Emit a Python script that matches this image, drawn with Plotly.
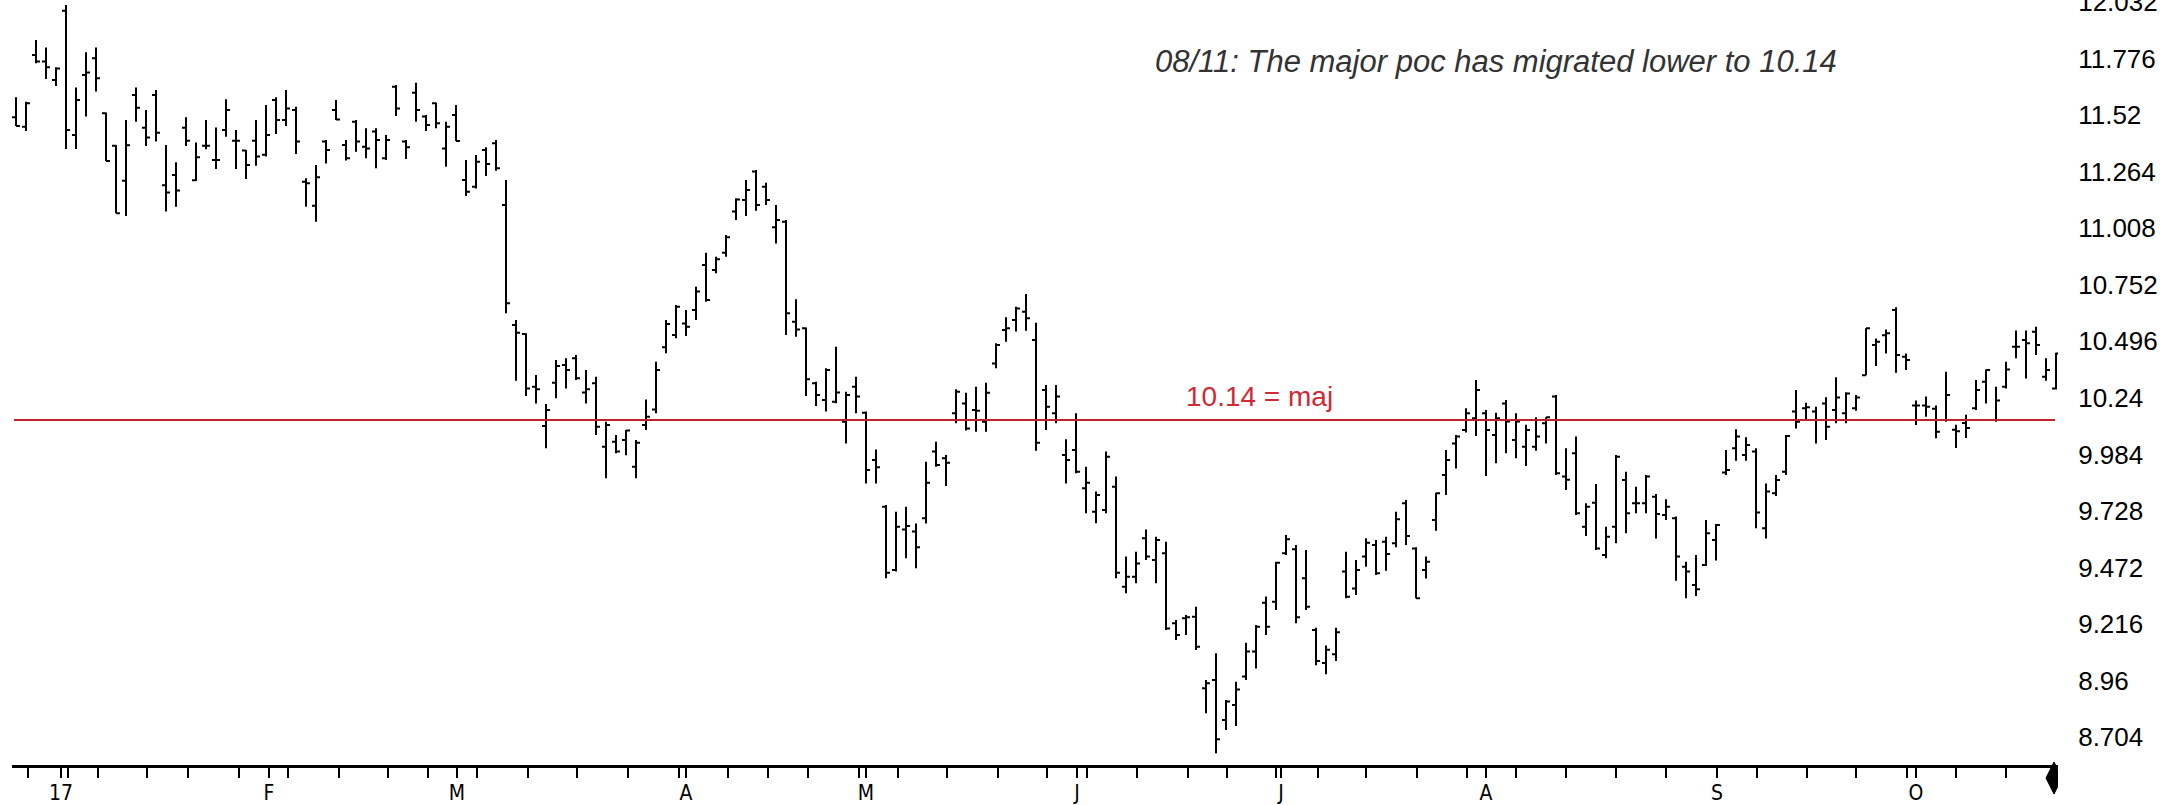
import plotly.graph_objects as go

# ---- data (daily OHLC) ----
opens = [11.510, 11.467, 11.792, 11.762, 11.678, 11.992, 11.430, 11.701, 11.777, 11.528,
         11.381, 11.223, 11.611, 11.463, 11.611, 11.202, 11.249, 11.463, 11.225, 11.381,
         11.316, 11.452, 11.404, 11.359, 11.404, 11.340, 11.588, 11.498, 11.543, 11.218,
         11.110, 11.400, 11.543, 11.384, 11.490, 11.377, 11.445, 11.324, 11.648, 11.400,
         11.621, 11.513, 11.573, 11.369, 11.520, 11.226, 11.196, 11.362, 11.392, 11.113,
         10.570, 10.529, 10.291, 10.113, 10.309, 10.389, 10.419, 10.264, 10.306, 10.019,
         10.042, 10.049, 9.929, 10.117, 10.188, 10.469, 10.525, 10.577, 10.638, 10.841,
         10.819, 10.897, 11.083, 11.135, 11.264, 11.196, 11.012, 11.037, 10.585, 10.555,
         10.306, 10.231, 10.223, 10.132, 10.291, 10.173, 9.959, 9.748, 9.461, 9.645,
         9.635, 9.695, 9.997, 9.967, 10.170, 10.215, 10.185, 10.132, 10.396, 10.547,
         10.592, 10.630, 10.502, 10.276, 10.170, 9.982, 10.004, 9.831, 9.725, 9.733,
         9.838, 9.386, 9.431, 9.605, 9.507, 9.537, 9.220, 9.243, 9.250, 8.926,
         8.964, 8.783, 8.850, 8.979, 9.092, 9.313, 9.318, 9.537, 9.555, 9.424,
         9.190, 9.040, 9.080, 9.454, 9.378, 9.522, 9.574, 9.589, 9.582, 9.763,
         9.559, 9.461, 9.687, 9.891, 10.034, 10.095, 10.148, 10.170, 10.072, 10.215,
         10.050, 10.019, 10.019, 10.125, 10.246, 9.884, 9.989, 9.657, 9.766, 9.529,
         9.657, 9.868, 9.763, 9.763, 9.793, 9.710, 9.695, 9.476, 9.393, 9.484,
         9.597, 9.902, 10.012, 9.982, 9.997, 9.650, 9.808, 9.906, 10.178, 10.193,
         10.178, 10.215, 10.185, 10.170, 10.193, 10.343, 10.479, 10.524, 10.638, 10.426,
         10.206, 10.206, 10.191, 10.140, 10.096, 10.127, 10.193, 10.313, 10.140, 10.291,
         10.472, 10.502, 10.539, 10.336, 10.283]
highs = [11.600, 11.580, 11.859, 11.826, 11.736, 12.018, 11.645, 11.804, 11.826, 11.531,
         11.384, 11.497, 11.645, 11.543, 11.633, 11.384, 11.306, 11.510, 11.396, 11.497,
         11.464, 11.591, 11.452, 11.362, 11.497, 11.565, 11.600, 11.633, 11.558, 11.234,
         11.294, 11.407, 11.588, 11.407, 11.498, 11.460, 11.460, 11.430, 11.656, 11.407,
         11.666, 11.520, 11.576, 11.490, 11.565, 11.317, 11.339, 11.374, 11.407, 11.226,
         10.593, 10.532, 10.344, 10.212, 10.411, 10.419, 10.434, 10.366, 10.336, 10.132,
         10.072, 10.095, 10.049, 10.233, 10.404, 10.592, 10.660, 10.638, 10.743, 10.897,
         10.879, 10.977, 11.143, 11.226, 11.271, 11.214, 11.113, 11.045, 10.686, 10.559,
         10.313, 10.374, 10.472, 10.268, 10.336, 10.178, 10.007, 9.755, 9.725, 9.748,
         9.672, 9.951, 10.042, 9.982, 10.279, 10.263, 10.291, 10.309, 10.487, 10.605,
         10.653, 10.710, 10.580, 10.298, 10.298, 10.053, 10.170, 9.929, 9.816, 9.997,
         9.884, 9.522, 9.544, 9.645, 9.612, 9.589, 9.235, 9.258, 9.295, 8.964,
         9.084, 8.873, 8.956, 9.132, 9.212, 9.341, 9.499, 9.620, 9.574, 9.552,
         9.200, 9.120, 9.200, 9.544, 9.506, 9.605, 9.597, 9.612, 9.725, 9.778,
         9.564, 9.522, 9.811, 10.004, 10.072, 10.193, 10.321, 10.185, 10.173, 10.230,
         10.170, 10.118, 10.152, 10.152, 10.253, 10.012, 10.065, 9.763, 9.850, 9.657,
         9.982, 9.906, 9.838, 9.891, 9.805, 9.781, 9.703, 9.499, 9.529, 9.688,
         9.669, 10.004, 10.098, 10.062, 10.012, 9.853, 9.891, 10.072, 10.276, 10.218,
         10.200, 10.243, 10.333, 10.266, 10.253, 10.555, 10.509, 10.550, 10.650, 10.441,
         10.228, 10.246, 10.206, 10.358, 10.119, 10.164, 10.321, 10.369, 10.291, 10.404,
         10.545, 10.545, 10.562, 10.419, 10.444]
lows = [11.470, 11.448, 11.754, 11.683, 11.651, 11.366, 11.366, 11.513, 11.626, 11.312,
        11.075, 11.063, 11.490, 11.380, 11.400, 11.083, 11.105, 11.380, 11.222, 11.365,
        11.276, 11.422, 11.276, 11.231, 11.291, 11.332, 11.434, 11.470, 11.344, 11.105,
        11.037, 11.301, 11.498, 11.314, 11.354, 11.324, 11.279, 11.317, 11.516, 11.321,
        11.490, 11.448, 11.460, 11.286, 11.402, 11.154, 11.188, 11.244, 11.268, 10.623,
        10.318, 10.249, 10.215, 10.012, 10.238, 10.283, 10.321, 10.215, 10.072, 9.876,
        9.989, 9.981, 9.876, 10.095, 10.170, 10.442, 10.510, 10.520, 10.593, 10.675,
        10.804, 10.879, 11.045, 11.063, 11.087, 11.113, 10.939, 10.525, 10.517, 10.249,
        10.203, 10.178, 10.216, 10.034, 10.170, 9.853, 9.853, 9.424, 9.454, 9.514,
        9.469, 9.672, 9.929, 9.841, 10.125, 10.092, 10.087, 10.087, 10.374, 10.494,
        10.540, 10.544, 10.001, 10.095, 10.125, 9.853, 9.899, 9.718, 9.673, 9.718,
        9.424, 9.356, 9.401, 9.507, 9.401, 9.190, 9.145, 9.167, 9.099, 8.813,
        8.632, 8.737, 8.755, 8.964, 9.016, 9.167, 9.280, 9.529, 9.220, 9.280,
        9.030, 8.990, 9.050, 9.333, 9.348, 9.476, 9.439, 9.458, 9.564, 9.574,
        9.333, 9.423, 9.639, 9.801, 9.921, 10.083, 10.068, 9.887, 9.944, 9.989,
        9.967, 9.932, 10.001, 10.034, 9.891, 9.823, 9.710, 9.615, 9.552, 9.514,
        9.582, 9.627, 9.718, 9.718, 9.604, 9.688, 9.413, 9.333, 9.344, 9.479,
        9.504, 9.891, 9.956, 9.956, 9.650, 9.604, 9.796, 9.891, 10.102, 10.140,
        10.034, 10.049, 10.125, 10.125, 10.182, 10.343, 10.384, 10.441, 10.354, 10.366,
        10.117, 10.155, 10.057, 10.132, 10.013, 10.059, 10.185, 10.215, 10.132, 10.283,
        10.419, 10.328, 10.434, 10.318, 10.278]
closes = [11.470, 11.573, 11.762, 11.736, 11.731, 11.452, 11.588, 11.712, 11.686, 11.312,
          11.075, 11.383, 11.553, 11.418, 11.440, 11.169, 11.178, 11.404, 11.329, 11.381,
          11.316, 11.543, 11.404, 11.294, 11.332, 11.430, 11.498, 11.550, 11.400, 11.211,
          11.238, 11.362, 11.500, 11.324, 11.400, 11.369, 11.407, 11.407, 11.550, 11.374,
          11.543, 11.475, 11.483, 11.467, 11.402, 11.173, 11.309, 11.298, 11.279, 10.668,
          10.535, 10.283, 10.279, 10.185, 10.384, 10.366, 10.329, 10.279, 10.110, 10.117,
          9.997, 10.092, 10.037, 10.155, 10.366, 10.574, 10.653, 10.562, 10.721, 10.683,
          10.867, 10.967, 11.138, 11.181, 11.113, 11.135, 11.045, 10.623, 10.550, 10.324,
          10.253, 10.366, 10.264, 10.253, 10.246, 9.914, 9.926, 9.449, 9.657, 9.660,
          9.564, 9.856, 9.936, 9.947, 10.268, 10.102, 10.182, 10.263, 10.479, 10.555,
          10.645, 10.600, 10.037, 10.200, 10.246, 9.959, 9.906, 9.856, 9.801, 9.974,
          9.449, 9.431, 9.491, 9.522, 9.597, 9.197, 9.167, 9.247, 9.114, 8.949,
          8.695, 8.866, 8.921, 9.092, 9.205, 9.205, 9.494, 9.600, 9.247, 9.295,
          9.050, 9.100, 9.180, 9.340, 9.461, 9.585, 9.446, 9.534, 9.691, 9.615,
          9.333, 9.499, 9.808, 9.959, 10.065, 10.170, 10.276, 10.095, 10.148, 10.133,
          10.133, 10.095, 10.065, 10.152, 9.899, 9.870, 9.718, 9.748, 9.559, 9.612,
          9.974, 9.718, 9.763, 9.884, 9.715, 9.748, 9.522, 9.454, 9.374, 9.627,
          9.665, 9.914, 10.065, 10.027, 9.721, 9.816, 9.868, 10.068, 10.132, 10.198,
          10.140, 10.110, 10.242, 10.260, 10.242, 10.555, 10.494, 10.532, 10.434, 10.411,
          10.206, 10.200, 10.087, 10.253, 10.089, 10.104, 10.276, 10.366, 10.228, 10.369,
          10.472, 10.487, 10.479, 10.366, 10.441]

bar_index = list(range(len(closes)))

month_labels = ["17", "F", "M", "A", "M", "J", "J", "A", "S", "O"]
month_pos = [4.5, 25.3, 44.1, 67.0, 85.0, 106.1, 126.5, 147.0, 170.1, 190.0]
week_pos = [1.2, 5.2, 8.2, 13.1, 17.2, 22.3, 27.2, 32.3, 37.2, 41.2, 46.1, 51.2,
            56.1, 61.2, 66.3, 71.2, 75.2, 79.2, 84.3, 88.2, 93.1, 98.2, 103.1, 107.1,
            112.1, 117.2, 121.1, 126.0, 130.2, 135.0, 140.1, 145.1, 150.0, 155.0,
            160.0, 165.0, 174.1, 179.1, 184.0, 189.1, 194.0, 199.0]

y_ticks = [8.704, 8.96, 9.216, 9.472, 9.728, 9.984, 10.24, 10.496, 10.752,
           11.008, 11.264, 11.52, 11.776, 12.032]
y_ticktext = ["8.704", "8.96", "9.216", "9.472", "9.728", "9.984", "10.24", "10.496",
              "10.752", "11.008", "11.264", "11.52", "11.776", "12.032"]

poc_level = 10.14
poc_label = "10.14 = maj"
note_text = "08/11: The major poc has migrated lower to 10.14"

# ---- figure ----
fig = go.Figure()
fig.add_trace(go.Ohlc(
    x=bar_index, open=opens, high=highs, low=lows, close=closes,
    increasing=dict(line=dict(color="black", width=2)),
    decreasing=dict(line=dict(color="black", width=2)),
    tickwidth=0.4, hoverinfo="skip", showlegend=False,
))

fig.add_shape(type="line", xref="x", yref="y", x0=-0.2, x1=203.9,
              y0=poc_level, y1=poc_level,
              line=dict(color="#c4202c", width=2))

# end-of-axis tall diamond (below the axis line)
dx, dyc, dh, dw = 203.8, -0.017, 0.021, 0.8
fig.add_shape(type="path", xref="x", yref="paper",
              path=f"M {dx-dw},{dyc} L {dx},{dyc+dh} L {dx+dw},{dyc} L {dx},{dyc-dh} Z",
              fillcolor="black", line=dict(color="black", width=1), layer="above")

fig.add_annotation(x=116.8, y=poc_level + 0.105, xref="x", yref="y",
                   text=poc_label, showarrow=False, xanchor="left", yanchor="middle",
                   font=dict(family="Liberation Sans, Arial, sans-serif", size=28,
                             color="#d02a36"))

fig.add_annotation(x=113.7, y=11.76, xref="x", yref="y",
                   text="<i>" + note_text + "</i>", showarrow=False,
                   xanchor="left", yanchor="middle",
                   font=dict(family="Liberation Sans, Arial, sans-serif", size=31,
                             color="#333333"))

all_ticks = sorted(set(week_pos + month_pos))
tick_text = []
for t in all_ticks:
    if t in month_pos:
        tick_text.append(month_labels[month_pos.index(t)])
    else:
        tick_text.append("")

fig.update_layout(
    width=2168, height=805,
    margin=dict(l=12, r=110, t=0, b=40, autoexpand=False),
    paper_bgcolor="white", plot_bgcolor="white",
    showlegend=False,
    xaxis=dict(
        range=[-0.4, 204.2], showgrid=False, zeroline=False, automargin=False,
        showline=True, linecolor="black", linewidth=3,
        ticks="outside", ticklen=10, tickwidth=2, tickcolor="black",
        tickmode="array", tickvals=all_ticks, ticktext=tick_text,
        ticklabeloverflow="allow", ticklabelstandoff=-3,
        tickfont=dict(family="Liberation Sans Narrow, DejaVu Sans Condensed, Liberation Sans, Arial, sans-serif",
                      size=21, color="black"),
        rangeslider=dict(visible=False), fixedrange=True,
    ),
    yaxis=dict(
        range=[8.5789, 12.0405], side="right", showgrid=False, zeroline=False,
        automargin=False,
        showline=False, ticks="outside", ticklen=14, tickcolor="rgba(0,0,0,0)",
        tickmode="array", tickvals=y_ticks, ticktext=y_ticktext,
        ticklabeloverflow="allow",
        tickfont=dict(family="Liberation Sans, Arial, sans-serif", size=26, color="black"),
        fixedrange=True,
    ),
)

fig.write_html("out.html", config={"displayModeBar": False},
               post_script="document.body.style.margin='0';document.body.style.overflow='hidden';")
